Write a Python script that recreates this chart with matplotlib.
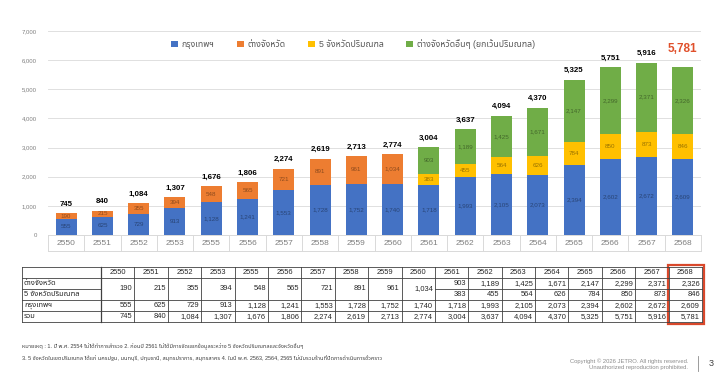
import matplotlib
matplotlib.use("Agg")
import matplotlib.pyplot as plt
import matplotlib.transforms as mtransforms
from matplotlib import font_manager
import numpy as np

# ---------------- data ----------------
years = ["2550", "2551", "2552", "2553", "2555", "2556", "2557", "2558", "2559",
         "2560", "2561", "2562", "2563", "2564", "2565", "2566", "2567", "2568"]
bangkok = [555, 625, 729, 913, 1128, 1241, 1553, 1728, 1752, 1740,
           1718, 1993, 2105, 2073, 2394, 2602, 2672, 2609]
provinces = [190, 215, 355, 394, 548, 565, 721, 891, 961, 1034]      # 2550-2560
vicinity = [383, 455, 564, 626, 784, 850, 873, 846]                  # 2561-2568
other_prov = [903, 1189, 1425, 1671, 2147, 2299, 2371, 2326]         # 2561-2568
totals = [745, 840, 1084, 1307, 1676, 1806, 2274, 2619, 2713, 2774,
          3004, 3637, 4094, 4370, 5325, 5751, 5916, 5781]
series_names = ["กรุงเทพฯ", "ต่างจังหวัด", "5 จังหวัดปริมณฑล",
                "ต่างจังหวัดอื่นๆ (ยกเว้นปริมณฑล)"]
row_labels = ["ต่างจังหวัด", "5 จังหวัดปริมณฑล", "กรุงเทพฯ", "รวม"]
note1 = ("หมายเหตุ : 1. ปี พ.ศ. 2554 ไม่ได้ทำการสำรวจ 2. ก่อนปี 2561 "
         "ไม่ได้มีการจัดแยกข้อมูลระหว่าง 5 จังหวัดปริมณฑลและจังหวัดอื่นๆ")
note2 = ("3. 5 จังหวัดในเขตปริมณฑล ได้แก่ นครปฐม, นนทบุรี, ปทุมธานี, สมุทรปราการ, "
         "สมุทรสาคร 4. ในปี พ.ศ. 2563, 2564, 2565 ไม่นับรวมร้านที่ปิดการดำเนินการชั่วคราว")

# ---------------- fonts ----------------
names = {f.name for f in font_manager.fontManager.ttflist}
thai = None
for cand in ["Noto Sans Thai", "Sarabun", "Anuphan", "IBM Plex Sans Thai",
             "Bai Jamjuree", "Athiti"]:
    if cand in names:
        thai = cand
        break
fam = ["Liberation Sans", thai, "DejaVu Sans"] if thai else ["Liberation Sans", "DejaVu Sans"]
plt.rcParams["font.family"] = fam

C_BLUE, C_ORANGE, C_YELLOW, C_GREEN = "#4472C4", "#ED7D31", "#FFC000", "#70AD47"

W, H = 720, 372
fig = plt.figure(figsize=(7.2, 3.72), dpi=100)
ax = fig.add_axes([48 / W, 1 - 235 / H, 653 / W, 204 / H])

n = len(years)
x = np.arange(n)
n_old = len(provinces)
bk = np.array(bangkok, float)
prov = np.array(provinces + [np.nan] * (n - n_old), float)
vic = np.array([np.nan] * n_old + vicinity, float)
oth = np.array([np.nan] * n_old + other_prov, float)

bw = 0.58
b1 = ax.bar(x, bk, bw, color=C_BLUE, label=series_names[0], zorder=2)
b2 = ax.bar(x, prov, bw, bottom=bk, color=C_ORANGE, label=series_names[1], zorder=2)
b3 = ax.bar(x, vic, bw, bottom=bk, color=C_YELLOW, label=series_names[2], zorder=2)
b4 = ax.bar(x, oth, bw, bottom=bk + np.nan_to_num(vic), color=C_GREEN,
            label=series_names[3], zorder=2)

def seg_labels(vals, bottoms):
    for xi, v, b in zip(x, vals, bottoms):
        if np.isnan(v):
            continue
        ax.text(xi, b + v / 2, f"{int(v):,}", ha="center", va="center",
                fontsize=4.5, color="black", alpha=0.4, zorder=3)

seg_labels(bk, np.zeros(n))
seg_labels(prov, bk)
seg_labels(vic, bk)
seg_labels(oth, bk + np.nan_to_num(vic))

for xi, t in zip(x, totals):
    if xi == n - 1:
        ax.annotate(f"{t:,}", (xi, t), xytext=(0, 8), textcoords="offset points",
                    ha="center", va="bottom", fontsize=8.5, fontweight="bold",
                    color="#E0502B")
    else:
        ax.annotate(f"{t:,}", (xi, t), xytext=(0, 4), textcoords="offset points",
                    ha="center", va="bottom", fontsize=5.7, fontweight="bold",
                    color="black")

ax.set_xlim(-0.5, n - 0.5)
ax.set_ylim(0, 7000)
ax.set_yticks(np.arange(0, 7001, 1000))
ax.set_yticklabels([f"{v:,}" for v in range(0, 7001, 1000)], fontsize=4.3, color="#7f7f7f")
ax.tick_params(axis="y", length=0, pad=8)
ax.set_xticks(x)
ax.set_xticklabels(years, fontsize=6, color="#7f7f7f")
ax.tick_params(axis="x", length=0, pad=3.5)
ax.grid(axis="y", color="#e0e0e0", lw=0.7, zorder=0)
for s in ax.spines.values():
    s.set_visible(False)

# category boxes under the axis
bt = mtransforms.blended_transform_factory(ax.transData, ax.transAxes)
box_h = -16 / 204
for b in np.arange(-0.5, n, 1.0):
    ax.plot([b, b], [0, box_h], transform=bt, color="#d9d9d9", lw=0.7, clip_on=False)
ax.plot([-0.5, n - 0.5], [box_h, box_h], transform=bt, color="#d9d9d9", lw=0.7, clip_on=False)
ax.plot([-0.5, n - 0.5], [0, 0], transform=bt, color="#d9d9d9", lw=0.7, clip_on=False)

# legend
leg = fig.legend(handles=[b1, b2, b3, b4], loc="center", bbox_to_anchor=(0.49, 1 - 44 / H),
                 ncol=4, frameon=False, fontsize=6.3, handlelength=0.8, handleheight=0.8,
                 columnspacing=2.6, handletextpad=0.4)
for t in leg.get_texts():
    t.set_color("#595959")

# ---------------- table (pixel overlay) ----------------
ov = fig.add_axes([0, 0, 1, 1], zorder=5)
ov.set_xlim(0, W)
ov.set_ylim(H, 0)
ov.axis("off")
ov.patch.set_alpha(0)

tx0, tx1, tlab = 22, 702, 101
rows = [267, 278, 289, 300, 311, 322]
cw = (tx1 - tlab) / n
lc = "#404040"
lw = 0.6
# horizontal lines
for i, ry in enumerate(rows):
    if i == 2:
        ov.plot([tx0, tlab], [ry, ry], color=lc, lw=lw)
        ov.plot([tlab + n_old * cw, tx1], [ry, ry], color=lc, lw=lw)
    else:
        ov.plot([tx0, tx1], [ry, ry], color=lc, lw=lw)
# vertical lines
ov.plot([tx0, tx0], [rows[0], rows[-1]], color=lc, lw=lw)
ov.plot([tlab, tlab], [rows[0], rows[-1]], color=lc, lw=0.9)
for j in range(1, n + 1):
    xv = tlab + j * cw
    ov.plot([xv, xv], [rows[0], rows[-1]], color=lc, lw=lw)

tfs = 5.4
tcol = "#262626"
for j, y in enumerate(years):
    cx = tlab + (j + 0.5) * cw
    right = tlab + (j + 1) * cw - 2
    ov.text(cx, (rows[0] + rows[1]) / 2, y, ha="center", va="center", fontsize=tfs, color=tcol)
    if j < n_old:
        ov.text(right, rows[2], f"{provinces[j]:,}", ha="right", va="center",
                fontsize=tfs, color=tcol)
    else:
        k = j - n_old
        ov.text(right, (rows[1] + rows[2]) / 2, f"{other_prov[k]:,}", ha="right",
                va="center", fontsize=tfs, color=tcol)
        ov.text(right, (rows[2] + rows[3]) / 2, f"{vicinity[k]:,}", ha="right",
                va="center", fontsize=tfs, color=tcol)
    ov.text(right, (rows[3] + rows[4]) / 2, f"{bangkok[j]:,}", ha="right", va="center",
            fontsize=tfs, color=tcol)
    ov.text(right, (rows[4] + rows[5]) / 2, f"{totals[j]:,}", ha="right", va="center",
            fontsize=tfs, color=tcol)
for i, lab in enumerate(row_labels):
    ov.text(tx0 + 2, (rows[i + 1] + rows[i + 2]) / 2, lab, ha="left", va="center",
            fontsize=tfs, color=tcol)

# red highlight box on last column
rx0 = tlab + (n - 1) * cw - 1
ov.add_patch(plt.Rectangle((rx0, rows[0] - 2), tx1 + 1.5 - rx0, rows[-1] - rows[0] + 4,
                           fill=False, edgecolor="#D9482B", lw=1.6))

# footnotes
ov.text(22, 347, note1, ha="left", va="center", fontsize=4.0, color="#404040")
ov.text(22, 359, note2, ha="left", va="center", fontsize=4.0, color="#404040")

# copyright & page number
ov.text(688, 361, "Copyright © 2026 JETRO. All rights reserved.", ha="right", va="center",
        fontsize=4.2, color="#8c8c8c")
ov.text(688, 368, "Unauthorized reproduction prohibited.", ha="right", va="center",
        fontsize=4.2, color="#8c8c8c")
ov.plot([698, 698], [356, 371], color="#8c8c8c", lw=0.6)
ov.text(711, 364, "3", ha="center", va="center", fontsize=6.5, color="#404040")

fig.savefig("out.png", dpi=100)
